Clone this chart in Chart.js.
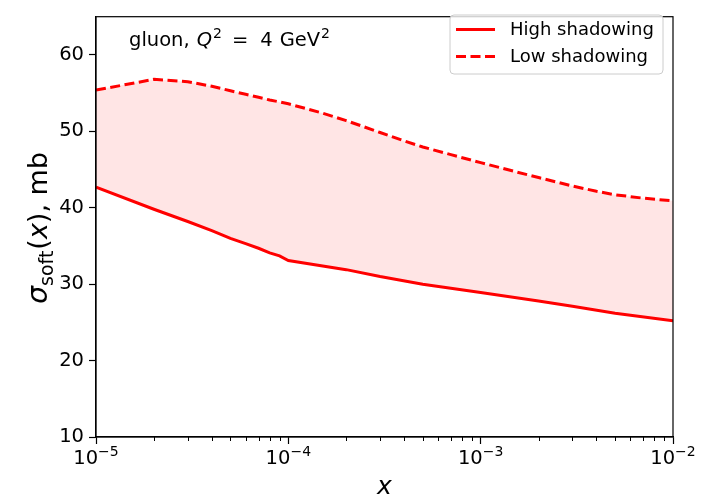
<!DOCTYPE html>
<html lang="en">
<head>
    <meta charset="UTF-8">
    <title>sigma soft gluon</title>
    <script src="https://cdn.jsdelivr.net/npm/chart.js"></script>
    <style>
        body { margin: 0; background: #ffffff; }
        #wrap { width: 714px; height: 500px; }
    </style>
</head>
<body>
<div id="wrap"><canvas id="chart" width="714" height="500"></canvas></div>
<script>
    // --- data ---
    const xHigh = [1e-5, 2e-5, 3e-5, 4e-5, 5e-5, 6e-5, 7e-5, 8e-5, 9e-5, 1e-4,
                   2e-4, 3e-4, 5e-4, 1e-3, 2e-3, 3e-3, 5e-3, 1e-2];
    const highShadowing = [42.7, 39.8, 38.2, 37.0, 36.0, 35.3, 34.7, 34.1, 33.7, 33.1,
                           31.9, 31.0, 30.0, 28.9, 27.8, 27.1, 26.2, 25.2];
    const xLow = [1e-5, 2e-5, 3e-5, 4e-5, 5e-5, 6e-5, 7e-5, 8e-5, 9e-5, 1e-4,
                  1.5e-4, 2e-4, 3e-4, 4e-4, 5e-4, 7e-4, 1e-3, 1.5e-3, 2e-3, 3e-3,
                  4e-3, 5e-3, 7e-3, 1e-2];
    const lowShadowing = [55.4, 56.8, 56.5, 55.9, 55.3, 54.85, 54.45, 54.1, 53.85, 53.6,
                          52.4, 51.4, 49.85, 48.75, 47.95, 46.95, 45.9, 44.75, 43.95, 42.85,
                          42.15, 41.7, 41.25, 40.9];
    const xMajorTicks = [1e-5, 1e-4, 1e-3, 1e-2];
    const xTickBase = '10';
    const xTickExponents = ['−5', '−4', '−3', '−2'];
    const yTicks = [10, 20, 30, 40, 50, 60];

    const FONT = "'DejaVu Sans', sans-serif";
    const TICK_SIZE = 19.5;

    const toPoints = (xs, ys) => ys.map((y, i) => ({ x: xs[i], y: y }));

    // draw a run of text pieces left to right; returns end x
    function drawRun(ctx, pieces, x, y) {
        pieces.forEach(p => {
            ctx.font = p.f;
            x += p.gap || 0;
            ctx.fillText(p.t, x, y + (p.dy || 0));
            x += ctx.measureText(p.t).width;
        });
        return x;
    }

    // frame, minor ticks, tick labels with exponents, axis title, annotation and legend
    const decorations = {
        id: 'decorations',
        afterDraw(chart) {
            const ctx = chart.ctx;
            const a = chart.chartArea;
            const xs = chart.scales.x;
            ctx.save();

            // box around plot
            ctx.strokeStyle = '#000';
            ctx.lineWidth = 1.2;
            ctx.strokeRect(a.left, a.top, a.right - a.left, a.bottom - a.top);

            // minor ticks on log axis
            ctx.lineWidth = 1;
            for (let d = -5; d < -2; d++) {
                for (let k = 2; k <= 9; k++) {
                    const px = Math.round(xs.getPixelForValue(k * Math.pow(10, d))) + 0.5;
                    ctx.beginPath();
                    ctx.moveTo(px, a.bottom);
                    ctx.lineTo(px, a.bottom + 4);
                    ctx.stroke();
                }
            }

            ctx.fillStyle = '#000';
            ctx.textBaseline = 'alphabetic';

            // x tick labels 10^n at the scale's tick positions
            xs.ticks.forEach((t, i) => {
                const px = xs.getPixelForValue(t.value);
                const pieces = [
                    { t: xTickBase, f: TICK_SIZE + 'px ' + FONT },
                    { t: xTickExponents[i], f: '14px ' + FONT, dy: -8 }
                ];
                let w = 0;
                pieces.forEach(p => { ctx.font = p.f; w += ctx.measureText(p.t).width; });
                drawRun(ctx, pieces, px - w / 2, a.bottom + 27);
            });

            // y axis title: sigma_soft(x), mb
            const parts = [
                { t: 'σ', f: 'italic 28px ' + FONT },
                { t: 'soft', f: '19px ' + FONT, dy: 6 },
                { t: '(', f: '27px ' + FONT, gap: 1 },
                { t: 'x', f: 'italic 27px ' + FONT },
                { t: '), mb', f: '27px ' + FONT }
            ];
            let total = 0;
            parts.forEach(p => { ctx.font = p.f; total += ctx.measureText(p.t).width + (p.gap || 0); });
            ctx.translate(47, (a.top + a.bottom) / 2 + 1);
            ctx.rotate(-Math.PI / 2);
            drawRun(ctx, parts, -total / 2, 0);
            ctx.setTransform(1, 0, 0, 1, 0, 0);

            // annotation: gluon, Q^2 = 4 GeV^2
            drawRun(ctx, [
                { t: 'gluon,', f: '19.5px ' + FONT },
                { t: 'Q', f: 'italic 19.5px ' + FONT, gap: 7 },
                { t: '2', f: '14px ' + FONT, dy: -8, gap: 1 },
                { t: '=', f: '19.5px ' + FONT, gap: 10 },
                { t: '4', f: '19.5px ' + FONT, gap: 12 },
                { t: 'GeV', f: '19.5px ' + FONT, gap: 7 },
                { t: '2', f: '14px ' + FONT, dy: -8, gap: 1 }
            ], 129, 46);

            // legend box
            const lx = 450, ly = 15, lw = 213, lh = 59;
            ctx.beginPath();
            ctx.roundRect(lx, ly, lw, lh, 4);
            ctx.fillStyle = 'rgba(255,255,255,0.8)';
            ctx.fill();
            ctx.strokeStyle = '#cccccc';
            ctx.lineWidth = 1;
            ctx.stroke();
            chart.data.datasets.forEach((ds, i) => {
                const y = 29.5 + i * 27;
                ctx.beginPath();
                ctx.strokeStyle = ds.borderColor;
                ctx.lineWidth = ds.borderWidth;
                ctx.setLineDash(ds.borderDash || []);
                ctx.moveTo(456, y);
                ctx.lineTo(495, y);
                ctx.stroke();
                ctx.setLineDash([]);
                ctx.fillStyle = '#000';
                ctx.font = '18px ' + FONT;
                ctx.textBaseline = 'middle';
                ctx.fillText(ds.label, 510, y + 1);
            });
            ctx.restore();
        }
    };

    new Chart(document.getElementById('chart'), {
        type: 'line',
        data: {
            datasets: [{
                label: 'High shadowing',
                data: toPoints(xHigh, highShadowing),
                borderColor: '#ff0000',
                borderWidth: 3,
                pointRadius: 0,
                tension: 0,
                fill: false
            }, {
                label: 'Low shadowing',
                data: toPoints(xLow, lowShadowing),
                borderColor: '#ff0000',
                borderWidth: 3,
                borderDash: [10, 4.5],
                pointRadius: 0,
                tension: 0,
                fill: { target: 0 },
                backgroundColor: 'rgba(255, 0, 0, 0.1)'
            }]
        },
        options: {
            responsive: false,
            animation: false,
            layout: { padding: { left: 0, top: 6, right: 41, bottom: 0 } },
            plugins: {
                legend: { display: false },
                tooltip: { enabled: false }
            },
            scales: {
                x: {
                    type: 'logarithmic',
                    min: 1e-5,
                    max: 1e-2,
                    afterFit(scale) { scale.height = 63; },
                    afterBuildTicks(scale) { scale.ticks = xMajorTicks.map(v => ({ value: v, major: true })); },
                    grid: { drawOnChartArea: false, tickLength: 7, color: '#000', tickWidth: 1.2 },
                    border: { color: '#000', width: 1.2 },
                    ticks: { display: false, autoSkip: false },
                    title: {
                        display: true,
                        text: 'x',
                        color: '#000',
                        padding: { top: 0, bottom: -2 },
                        font: { family: FONT, size: 25, style: 'italic' }
                    }
                },
                y: {
                    min: 10,
                    max: 65,
                    afterFit(scale) { scale.width = 96; },
                    afterBuildTicks(scale) { scale.ticks = yTicks.map(v => ({ value: v })); },
                    grid: { drawOnChartArea: false, tickLength: 7, color: '#000', tickWidth: 1.2 },
                    border: { color: '#000', width: 1.2 },
                    ticks: {
                        padding: 5,
                        color: '#000',
                        font: { family: FONT, size: TICK_SIZE }
                    }
                }
            }
        },
        plugins: [decorations]
    });
</script>
</body>
</html>
